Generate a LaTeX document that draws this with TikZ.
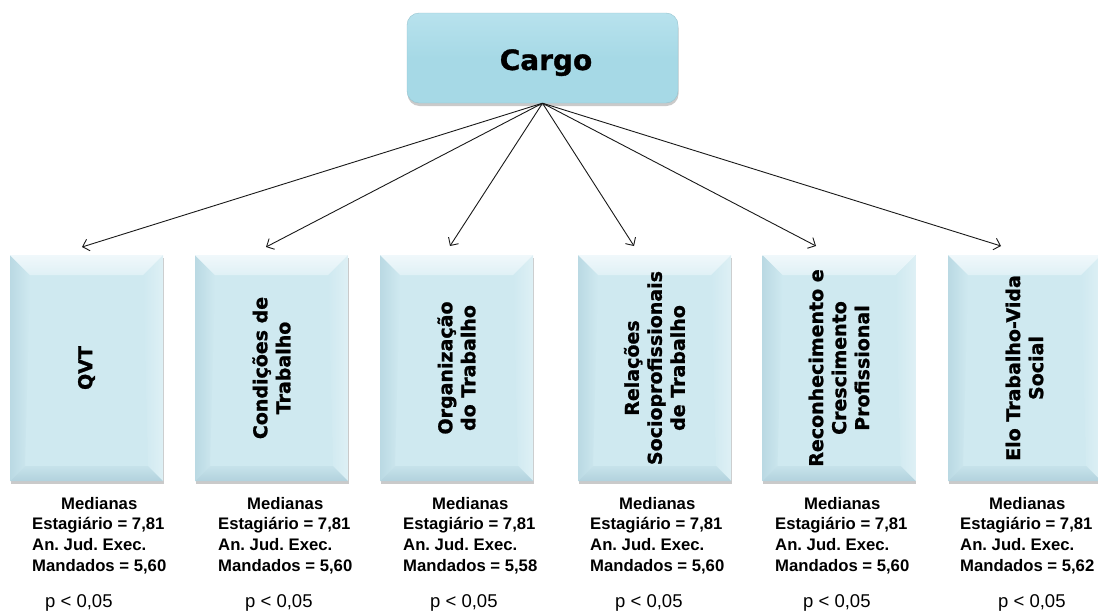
\documentclass[tikz,border=0pt]{standalone}
\usepackage{fontspec}
\setmainfont{Liberation Sans}
\newfontfamily\verd{DejaVu Sans}[BoldFeatures={FakeBold=1.2}]
\usetikzlibrary{arrows.meta,shadows,calc}
\definecolor{face}{RGB}{207,233,240}
\definecolor{bevtop}{RGB}{240,248,251}
\definecolor{bevbot}{RGB}{178,210,221}
\definecolor{bevside}{RGB}{186,217,227}
\definecolor{bevright}{RGB}{222,240,245}
\definecolor{cargofill}{RGB}{166,217,230}
\definecolor{cargotop}{RGB}{184,226,237}
\newcommand{\medtab}[1]{\begin{tabular}[t]{@{}l@{}}\multicolumn{1}{@{}c@{}}{Medianas}\\Estagiário = 7,81\\An. Jud. Exec.\\Mandados = #1\end{tabular}}
\frenchspacing
\begin{document}
\begin{tikzpicture}[x=1pt,y=-1pt,
  bbox/.style={rectangle, inner sep=0pt, minimum width=153pt, minimum height=226pt,
    fill=face,
    drop shadow={shadow xshift=0.5pt,shadow yshift=-2.5pt,opacity=0.35,fill=black!60},
    path picture={
      \coordinate (pnw) at (path picture bounding box.north west);
      \coordinate (pne) at (path picture bounding box.north east);
      \coordinate (psw) at (path picture bounding box.south west);
      \coordinate (pse) at (path picture bounding box.south east);
      \shade[left color=bevside,right color=face] (pnw) -- ($(pnw)+(20pt,-20pt)$) -- ($(psw)+(15pt,15pt)$) -- (psw) -- cycle;
      \shade[left color=face,right color=bevright] (pne) -- ($(pne)+(-20pt,-20pt)$) -- ($(pse)+(-15pt,15pt)$) -- (pse) -- cycle;
      \shade[top color=bevtop,bottom color=face!50!bevtop] (pnw) -- (pne) -- ($(pne)+(-20pt,-20pt)$) -- ($(pnw)+(20pt,-20pt)$) -- cycle;
      \shade[top color=face!70!bevbot,bottom color=bevbot] (psw) -- (pse) -- ($(pse)+(-15pt,15pt)$) -- ($(psw)+(15pt,15pt)$) -- cycle;
    }},
  lab/.style={rotate=90, align=center, inner sep=0pt, font={\verd\bfseries\fontsize{19}{23}\selectfont}},
  med/.style={anchor=base west, inner sep=0pt, font={\bfseries\fontsize{16.7}{20.7}\selectfont}},
  pval/.style={anchor=base west, inner sep=0pt, font={\fontsize{18.5}{20}\selectfont}},
  arr/.style={-{Straight Barb[length=6pt,width=12pt]}, line width=0.9pt, black!90}
]
\useasboundingbox (0,0) rectangle (1098,613);

% top box
\node[rectangle, rounded corners=12pt, minimum width=271pt, minimum height=90pt, inner sep=0pt,
  top color=cargotop, bottom color=cargofill, middle color=cargofill,
  draw=cargofill!90!black, line width=0.4pt,
  drop shadow={shadow xshift=0.5pt,shadow yshift=-3pt,opacity=0.35,fill=black!60}] (cargo) at (542.5,58) {};
\node[font={\verd\bfseries\fontsize{28}{30}\selectfont}, inner sep=0pt, anchor=base] (ct) at (546,70) {Cargo};

% boxes
\node[bbox] (b1) at (86.5,368) {};
\node[bbox] (b2) at (271.5,368) {};
\node[bbox] (b3) at (456.5,368) {};
\node[bbox] (b4) at (654.5,368) {};
\node[bbox] (b5) at (839,368) {};
\node[bbox] (b6) at (1024.5,368) {};

\node[lab] (l1) at (b1) {QVT};
\node[lab] (l2) at (b2) {Condições de\\Trabalho};
\node[lab] (l3) at (b3) {Organização\\do Trabalho};
\node[lab] (l4) at (b4) {Relações\\Socioprofissionais\\de Trabalho};
\node[lab] (l5) at (b5) {Reconhecimento e\\Crescimento\\Profissional};
\node[lab] (l6) at (b6) {Elo Trabalho-Vida\\Social};

% arrow end points
\coordinate (a1) at (82,247);
\coordinate (a2) at (266,247);
\coordinate (a3) at (450,246);
\coordinate (a4) at (634,246);
\coordinate (a5) at (816,246);
\coordinate (a6) at (1001,246);
\foreach \i in {1,...,6} \draw[arr] (cargo.south) -- (a\i);

% medians
\node[med] (m1) at (32,509) {\medtab{5,60}};
\node[med] (m2) at (218,509) {\medtab{5,60}};
\node[med] (m3) at (403,509) {\medtab{5,58}};
\node[med] (m4) at (590,509) {\medtab{5,60}};
\node[med] (m5) at (775,509) {\medtab{5,60}};
\node[med] (m6) at (960,509) {\medtab{5,62}};

\node[pval] (p1) at (45,607) {p < 0,05};
\node[pval] (p2) at (245,607) {p < 0,05};
\node[pval] (p3) at (430,607) {p < 0,05};
\node[pval] (p4) at (615,607) {p < 0,05};
\node[pval] (p5) at (803,607) {p < 0,05};
\node[pval] (p6) at (998,607) {p < 0,05};
\end{tikzpicture}
\end{document}
